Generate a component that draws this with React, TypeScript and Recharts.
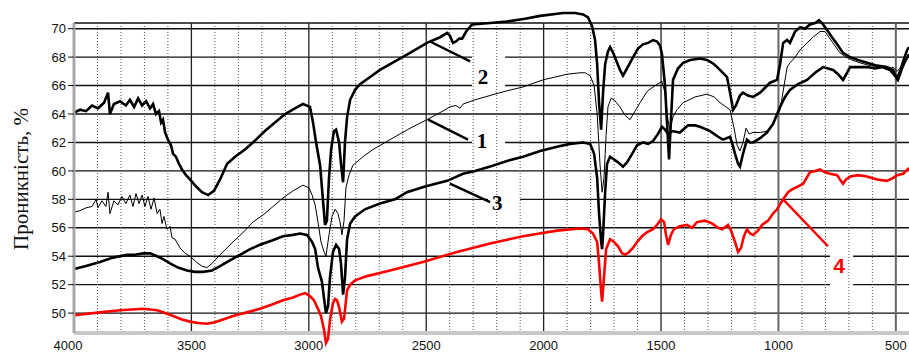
import React from 'react';
import {
  LineChart, Line, XAxis, YAxis, CartesianGrid, ReferenceLine, ReferenceArea, ReferenceDot, Label,
} from 'recharts';

// Wavenumber axis (cm-1), transmittance axis (%)
const xTicks = [4000, 3500, 3000, 2500, 2000, 1500, 1000, 500];
const yTicks = [50, 52, 54, 56, 58, 60, 62, 64, 66, 68, 70];
const minorX = [3900, 3800, 3700, 3600, 3400, 3300, 3200, 3100, 2900, 2800, 2700, 2600, 2400, 2300, 2200, 2100,
  1900, 1800, 1700, 1600, 1400, 1300, 1200, 1100, 900, 800, 700, 600];

// Spectrum 1 (thin black)
const curve1: [number, number][] = [
  [4000, 57.1], [3974, 57.2], [3949, 57.4], [3923, 57.5], [3906, 58.0], [3898, 57.4], [3881, 57.9], [3864, 57.5],
  [3855, 58.5], [3847, 57.0], [3830, 57.9], [3813, 57.6], [3796, 58.2], [3779, 57.7], [3762, 58.3], [3749, 57.5],
  [3736, 58.4], [3723, 57.7], [3710, 58.3], [3698, 57.5], [3685, 58.2], [3672, 57.3], [3659, 58.1], [3646, 57.0],
  [3634, 57.3], [3625, 56.3], [3617, 56.8], [3604, 55.9], [3591, 56.1], [3583, 55.3], [3570, 55.2], [3549, 54.6],
  [3527, 54.2], [3506, 54.0], [3480, 53.6], [3455, 53.3], [3434, 53.2], [3412, 53.5], [3378, 54.1], [3323, 55.0],
  [3272, 55.8], [3238, 56.4], [3195, 56.9], [3152, 57.5], [3110, 58.1], [3067, 58.6], [3025, 59.0], [2999, 58.8],
  [2986, 58.3], [2973, 57.6], [2961, 56.4], [2948, 55.0], [2935, 54.3], [2927, 54.0], [2914, 55.5], [2901, 56.8],
  [2888, 57.3], [2876, 57.0], [2867, 56.4], [2859, 55.5], [2850, 56.5], [2842, 58.8], [2829, 59.7], [2812, 60.4],
  [2769, 61.0], [2727, 61.5], [2654, 62.2], [2569, 63.0], [2497, 63.6], [2441, 64.1], [2399, 64.5], [2373, 64.6],
  [2356, 64.4], [2343, 64.7], [2292, 65.0], [2228, 65.3], [2164, 65.6], [2088, 65.9], [2003, 66.4], [1951, 66.6],
  [1900, 66.8], [1845, 66.9], [1824, 66.9], [1802, 66.7], [1785, 66.0], [1772, 64.0], [1760, 60.5], [1751, 58.5],
  [1743, 59.5], [1734, 62.5], [1726, 64.5], [1713, 65.1], [1700, 65.0], [1675, 64.5], [1653, 63.9], [1632, 63.6],
  [1611, 64.2], [1589, 64.8], [1559, 65.6], [1525, 66.0], [1496, 66.3], [1483, 65.5], [1470, 63.5], [1462, 62.9],
  [1449, 63.8], [1432, 64.3], [1406, 64.8], [1355, 65.2], [1304, 65.4], [1274, 65.2], [1249, 64.8], [1206, 64.3],
  [1189, 63.0], [1176, 61.8], [1164, 61.4], [1151, 62.0], [1138, 63.0], [1125, 62.6], [1108, 62.7], [1078, 62.7],
  [1049, 62.8], [1023, 63.3], [993, 64.3], [976, 66.0], [963, 67.3], [951, 67.6], [929, 68.0], [908, 68.5],
  [878, 69.0], [853, 69.4], [823, 69.8], [802, 69.8], [789, 69.5], [768, 69.0], [738, 68.3], [712, 68.0],
  [687, 67.8], [653, 67.6], [610, 67.4], [567, 67.3], [533, 67.1], [512, 67.3], [495, 67.0], [478, 67.3],
  [461, 67.8], [444, 68.0],
];

// Spectrum 2 (thick black, top)
const curve2: [number, number][] = [
  [4000, 64.1], [3974, 64.3], [3949, 64.2], [3923, 64.6], [3898, 64.4], [3872, 64.8], [3855, 65.5], [3847, 64.0],
  [3830, 64.7], [3804, 64.9], [3779, 64.6], [3762, 65.0], [3744, 64.5], [3727, 65.1], [3710, 64.6], [3693, 64.9],
  [3676, 64.4], [3663, 64.7], [3651, 64.0], [3638, 64.2], [3629, 63.4], [3621, 63.6], [3612, 62.7], [3600, 62.2],
  [3587, 61.8], [3578, 61.2], [3566, 61.0], [3553, 60.5], [3540, 60.1], [3523, 59.7], [3506, 59.4], [3480, 58.9],
  [3455, 58.5], [3429, 58.3], [3404, 58.6], [3378, 59.4], [3348, 60.5], [3314, 61.0], [3272, 61.5], [3238, 62.0],
  [3187, 62.8], [3144, 63.4], [3101, 64.0], [3059, 64.4], [3025, 64.7], [2995, 64.5], [2982, 63.4], [2969, 62.0],
  [2952, 60.4], [2940, 58.0], [2931, 56.2], [2923, 56.5], [2914, 59.5], [2905, 61.5], [2893, 62.8], [2884, 62.9],
  [2871, 62.0], [2863, 60.5], [2854, 59.2], [2846, 62.0], [2837, 63.8], [2824, 65.0], [2803, 65.7], [2782, 66.1],
  [2739, 66.6], [2697, 67.1], [2633, 67.7], [2569, 68.3], [2497, 69.0], [2441, 69.4], [2411, 69.7], [2399, 69.5],
  [2386, 69.0], [2373, 69.1], [2360, 69.3], [2347, 69.3], [2330, 69.8], [2305, 70.3], [2228, 70.4], [2156, 70.5],
  [2079, 70.7], [2015, 70.9], [1917, 71.1], [1866, 71.1], [1832, 71.0], [1811, 70.8], [1794, 70.2], [1781, 69.2],
  [1772, 67.5], [1764, 64.8], [1755, 62.9], [1747, 65.5], [1738, 67.5], [1726, 68.4], [1717, 68.7], [1704, 68.3],
  [1687, 67.6], [1675, 67.1], [1662, 66.7], [1645, 67.2], [1619, 68.0], [1598, 68.6], [1577, 68.9], [1555, 69.0],
  [1534, 69.2], [1517, 69.1], [1504, 68.8], [1496, 68.2], [1483, 66.0], [1475, 63.5], [1466, 60.8], [1458, 63.5],
  [1449, 66.4], [1428, 67.2], [1406, 67.6], [1376, 67.8], [1334, 67.9], [1304, 67.8], [1274, 67.5], [1249, 67.1],
  [1219, 66.6], [1206, 65.5], [1193, 64.3], [1181, 64.6], [1164, 65.3], [1151, 65.5], [1130, 65.3], [1108, 65.2],
  [1078, 65.5], [1036, 66.2], [1006, 66.4], [993, 67.5], [980, 69.0], [963, 69.2], [951, 69.0], [929, 69.8],
  [908, 70.1], [887, 70.0], [866, 70.3], [844, 70.4], [827, 70.6], [810, 70.3], [793, 69.9], [772, 69.4],
  [750, 68.9], [725, 68.3], [695, 68.0], [661, 67.8], [623, 67.6], [580, 67.4], [538, 67.3], [512, 67.1],
  [495, 66.5], [482, 67.0], [469, 67.7], [452, 68.5], [444, 68.7],
];

// Spectrum 3 (thick black, middle)
const curve3: [number, number][] = [
  [4000, 53.1], [3953, 53.3], [3889, 53.6], [3834, 53.9], [3774, 54.1], [3740, 54.1], [3706, 54.2], [3676, 54.2],
  [3646, 54.0], [3621, 53.8], [3591, 53.5], [3557, 53.2], [3519, 53.0], [3485, 52.9], [3451, 52.9], [3412, 53.0],
  [3378, 53.3], [3336, 53.7], [3293, 54.1], [3250, 54.5], [3208, 54.8], [3157, 55.1], [3110, 55.4], [3067, 55.5],
  [3037, 55.6], [3008, 55.5], [2986, 55.0], [2973, 54.5], [2961, 53.2], [2944, 52.2], [2935, 51.0], [2927, 50.0],
  [2918, 50.5], [2910, 52.5], [2897, 54.3], [2884, 54.8], [2871, 54.5], [2863, 53.5], [2854, 51.3], [2846, 52.5],
  [2837, 55.2], [2824, 56.3], [2803, 56.8], [2761, 57.3], [2697, 57.7], [2633, 58.0], [2582, 58.5], [2505, 58.9],
  [2411, 59.3], [2343, 59.8], [2292, 60.0], [2228, 60.3], [2156, 60.7], [2088, 61.0], [2015, 61.4], [1943, 61.7],
  [1888, 61.9], [1832, 62.0], [1802, 61.9], [1785, 61.2], [1772, 59.5], [1764, 57.0], [1755, 55.0], [1751, 54.5],
  [1747, 55.5], [1738, 58.5], [1730, 60.5], [1717, 61.0], [1700, 60.8], [1683, 60.6], [1662, 60.3], [1645, 60.6],
  [1623, 61.2], [1602, 61.8], [1577, 62.0], [1555, 61.9], [1534, 62.1], [1513, 62.6], [1496, 63.1], [1483, 62.9],
  [1470, 62.6], [1453, 62.8], [1420, 62.7], [1385, 63.2], [1355, 63.2], [1334, 63.1], [1291, 62.8], [1257, 62.4],
  [1236, 62.2], [1206, 62.4], [1193, 61.7], [1185, 61.2], [1172, 60.5], [1164, 60.3], [1151, 61.2], [1134, 62.2],
  [1121, 62.0], [1108, 62.0], [1078, 62.3], [1049, 62.7], [1023, 63.3], [993, 64.5], [972, 65.2], [951, 65.7],
  [917, 66.1], [878, 66.4], [844, 66.9], [810, 67.3], [789, 67.2], [767, 67.1], [746, 66.8], [725, 66.4],
  [708, 66.9], [695, 67.3], [661, 67.3], [623, 67.3], [589, 67.2], [555, 67.3], [525, 67.1], [504, 66.7],
  [491, 66.4], [474, 67.2], [461, 67.7], [444, 68.2],
];

// Spectrum 4 (red)
const curve4: [number, number][] = [
  [4000, 49.85], [3889, 50.05], [3804, 50.2], [3706, 50.3], [3646, 50.2], [3612, 50.0], [3578, 49.8], [3540, 49.55],
  [3506, 49.4], [3472, 49.3], [3434, 49.25], [3400, 49.35], [3365, 49.55], [3323, 49.8], [3263, 50.05], [3208, 50.3],
  [3157, 50.6], [3110, 50.9], [3067, 51.1], [3037, 51.3], [3016, 51.4], [2995, 51.2], [2978, 50.9], [2961, 50.3],
  [2948, 49.8], [2935, 48.8], [2927, 47.9], [2918, 48.2], [2910, 49.5], [2897, 50.7], [2888, 51.0], [2880, 50.9],
  [2871, 50.4], [2859, 49.4], [2850, 49.6], [2837, 51.6], [2824, 52.0], [2803, 52.3], [2752, 52.6], [2654, 53.0],
  [2514, 53.6], [2369, 54.3], [2228, 54.9], [2088, 55.4], [1943, 55.8], [1845, 55.95], [1811, 55.9], [1790, 55.6],
  [1772, 55.0], [1764, 53.5], [1755, 51.5], [1751, 50.8], [1743, 52.5], [1734, 54.5], [1717, 55.2], [1700, 55.0],
  [1683, 54.7], [1666, 54.2], [1653, 54.1], [1636, 54.3], [1619, 54.6], [1602, 55.0], [1581, 55.4], [1559, 55.7],
  [1534, 55.9], [1517, 56.2], [1500, 56.6], [1487, 56.4], [1479, 55.5], [1470, 54.8], [1458, 55.5], [1445, 55.9],
  [1420, 56.1], [1390, 56.2], [1368, 56.0], [1347, 56.4], [1313, 56.5], [1283, 56.3], [1257, 56.0], [1240, 55.9],
  [1215, 56.2], [1202, 55.8], [1185, 55.0], [1172, 54.3], [1159, 54.6], [1147, 55.4], [1134, 55.9], [1121, 55.6],
  [1108, 55.5], [1087, 55.8], [1070, 56.2], [1044, 56.5], [1023, 57.0], [1006, 57.3], [980, 58.0], [959, 58.5],
  [942, 58.7], [917, 58.9], [895, 59.1], [866, 59.9], [844, 60.0], [823, 60.1], [802, 59.9], [780, 59.8],
  [750, 59.7], [738, 59.4], [725, 59.1], [712, 59.4], [695, 59.6], [661, 59.7], [623, 59.6], [580, 59.4],
  [538, 59.3], [512, 59.5], [495, 59.7], [469, 59.8], [444, 60.2],
];

// Curve numbers with their leader lines
const curveLabels: { id: string; x: number; y: number; seg: [number, number, number, number]; box: [number, number, number, number]; red?: boolean }[] = [
  { id: '2', x: 2258, y: 66.6, seg: [2484, 69.1, 2313, 67.7], box: [2305, 2164, 68.4, 65.7] },
  { id: '1', x: 2262, y: 62.1, seg: [2492, 63.6, 2322, 62.2], box: [2305, 2164, 63.1, 61.0] },
  { id: '3', x: 2198, y: 57.8, seg: [2399, 59.1, 2228, 57.8], box: [2237, 2100, 59.1, 56.6] },
  { id: '4', x: 742, y: 53.35, seg: [980, 58.0, 789, 54.7], box: [780, 682, 55.1, 51.05], red: true },
];

const toPts = (c: [number, number][]) => c.map(([wn, t]) => ({ wn, t }));

const XTick = (props: any) => {
  const { x, y, payload } = props;
  const dx = payload.value === 4000 ? -6 : 0;
  return (
    <text x={x + dx} y={y} dy="0.71em" textAnchor="middle" fill="#111" fontSize={13}
      fontFamily="Liberation Sans, Arial, sans-serif">
      {payload.value}
    </text>
  );
};

export default function App() {
  return (
    <div style={{ position: 'absolute', left: 0, top: 0, width: 909, height: 353, background: '#fff' }}>
      <style>{`.recharts-wrapper [clip-path]{clip-path:none !important}`}</style>
      <LineChart width={909} height={353} margin={{ top: 23, right: 0, left: 0, bottom: 0 }}>
        <CartesianGrid vertical={false} stroke="#111" strokeWidth={1.4} />
        <XAxis
          type="number" dataKey="wn" domain={[444, 4000]} reversed allowDataOverflow ticks={xTicks}
          height={20} tickLine={false} axisLine={false}
          tick={<XTick />} tickMargin={2}
        />
        <YAxis
          type="number" dataKey="t" domain={[48.6, 70.4]} allowDataOverflow ticks={yTicks} width={74}
          tickSize={6} tickMargin={2} tickLine={{ stroke: '#111' }} axisLine={{ stroke: '#a8a8a8', strokeWidth: 3 }}
          tick={{ fill: '#111', fontSize: 13, fontFamily: 'Liberation Sans, Arial, sans-serif' }}
        >
          <Label
            content={() => (
              <text x={28} y={179} transform="rotate(-90 28 179)" textAnchor="middle"
                fontFamily="Liberation Serif, Times New Roman, serif" fontSize={21} fill="#111">
                Проникність, %
              </text>
            )}
          />
        </YAxis>
        {minorX.map((v) => (
          <ReferenceLine key={'m' + v} x={v} stroke="#555" strokeWidth={1} strokeDasharray="1 2" />
        ))}
        {xTicks.slice(1).map((v) => (
          <ReferenceLine key={'M' + v} x={v} stroke={v <= 1000 ? '#666' : '#222'} strokeWidth={v <= 1000 ? 2 : 1.3} />
        ))}
        <ReferenceLine y={48.6} stroke="#c8c8c8" strokeWidth={4} ifOverflow="visible" />
        {curveLabels.map((l) => (
          <ReferenceArea key={'b' + l.id} x1={l.box[0]} x2={l.box[1]} y1={l.box[2]} y2={l.box[3]}
            fill="#fff" fillOpacity={1} stroke="none" />
        ))}
        <Line data={toPts(curve1)} dataKey="t" type="linear" stroke="#000" strokeWidth={1} dot={false} isAnimationActive={false} />
        <Line data={toPts(curve3)} dataKey="t" type="linear" stroke="#000" strokeWidth={2.6} dot={false} isAnimationActive={false} />
        <Line data={toPts(curve2)} dataKey="t" type="linear" stroke="#000" strokeWidth={2.6} dot={false} isAnimationActive={false} />
        <Line data={toPts(curve4)} dataKey="t" type="linear" stroke="#ff0000" strokeWidth={2.6} dot={false} isAnimationActive={false} />
        {curveLabels.map((l) => (
          <ReferenceLine key={'s' + l.id}
            segment={[{ x: l.seg[0], y: l.seg[1] }, { x: l.seg[2], y: l.seg[3] }]}
            stroke={l.red ? '#ff0000' : '#000'} strokeWidth={2.4} ifOverflow="visible" />
        ))}
        {curveLabels.map((l) => (
          <ReferenceDot key={'d' + l.id} x={l.x} y={l.y} r={1} fill="none" stroke="none"
            label={{
              value: l.id, position: 'center', fontSize: 21, fontWeight: 'bold',
              fill: l.red ? '#ff0000' : '#000',
              fontFamily: l.red ? 'Liberation Sans, Arial, sans-serif' : 'Liberation Serif, Times New Roman, serif',
            }} />
        ))}
      </LineChart>
    </div>
  );
}
